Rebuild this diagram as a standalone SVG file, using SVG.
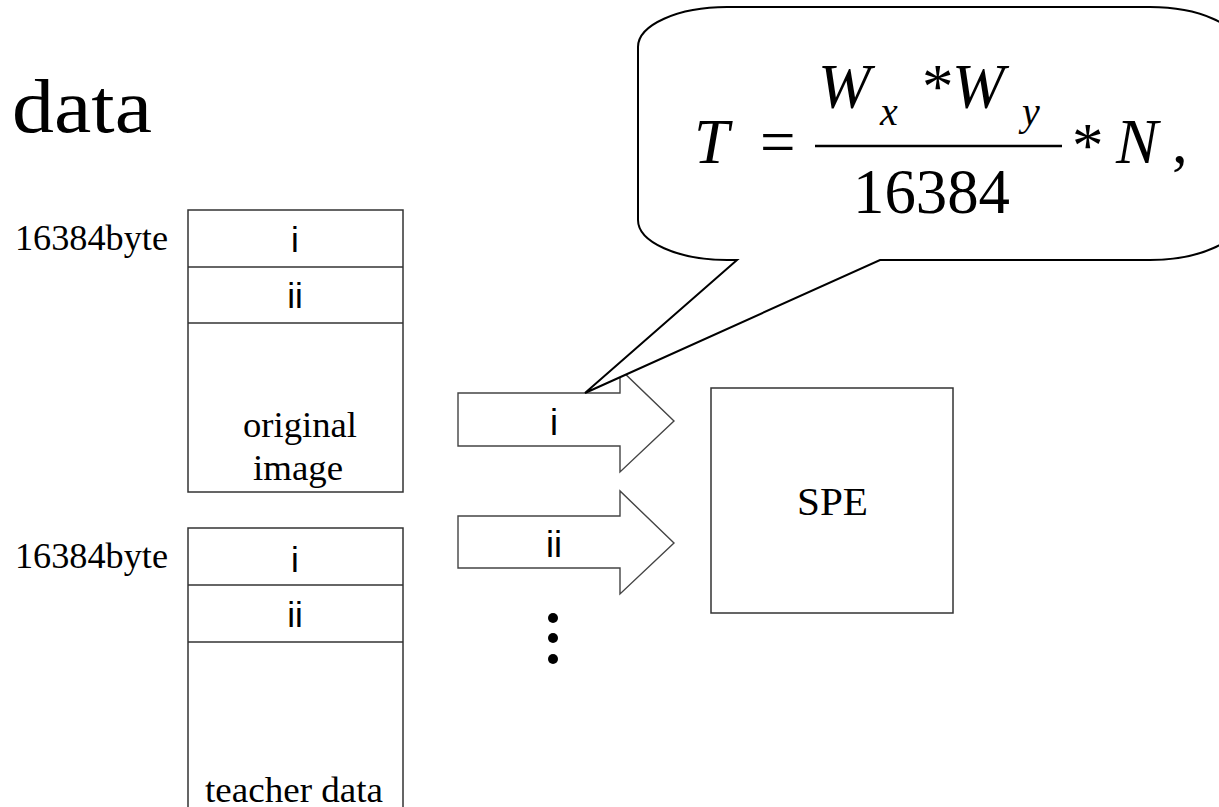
<svg xmlns="http://www.w3.org/2000/svg" width="1219" height="807" viewBox="0 0 1219 807">
<style>
.serif{font-family:"Liberation Serif","Times New Roman",serif;fill:#000}
.sans{font-family:"Liberation Sans",Arial,sans-serif;fill:#000}
.box{fill:#fff;stroke:#333;stroke-width:1.5}
.arrow{fill:#fff;stroke:#444;stroke-width:1.4;stroke-linejoin:miter}
.it{font-style:italic}
</style>
<rect width="1219" height="807" fill="#fff"/>
<g id="title">
<text class="serif" x="12" y="132" font-size="76" textLength="140" lengthAdjust="spacingAndGlyphs">data</text>
</g>
<g id="buffer1">
<text class="serif" x="15" y="250" font-size="36" textLength="153" lengthAdjust="spacingAndGlyphs">16384byte</text>
<rect class="box" x="188" y="210" width="215" height="282"/>
<line class="box" x1="188" y1="267" x2="403" y2="267"/>
<line class="box" x1="188" y1="323" x2="403" y2="323"/>
<text class="sans" x="295" y="252" font-size="35" text-anchor="middle">i</text>
<text class="sans" x="295" y="308" font-size="35" text-anchor="middle">ii</text>
<text class="serif" x="243" y="437" font-size="36" textLength="114" lengthAdjust="spacingAndGlyphs">original</text>
<text class="serif" x="253" y="480" font-size="36" textLength="90" lengthAdjust="spacingAndGlyphs">image</text>
</g>
<g id="buffer2">
<text class="serif" x="15" y="568" font-size="36" textLength="153" lengthAdjust="spacingAndGlyphs">16384byte</text>
<rect class="box" x="188" y="528" width="215" height="300"/>
<line class="box" x1="188" y1="585" x2="403" y2="585"/>
<line class="box" x1="188" y1="642" x2="403" y2="642"/>
<text class="sans" x="295" y="572" font-size="35" text-anchor="middle">i</text>
<text class="sans" x="295" y="627" font-size="35" text-anchor="middle">ii</text>
<text class="serif" x="205" y="802" font-size="36" textLength="178" lengthAdjust="spacingAndGlyphs">teacher data</text>
</g>
<g id="connectors">
<g id="arrow-i">
<path class="arrow" d="M458,393 H620 V369 L674,421 L620,472 V446 H458 Z"/>
<text class="sans" x="554" y="435" font-size="36" text-anchor="middle">i</text>
</g>
<g id="arrow-ii">
<path class="arrow" d="M458,516 H620 V491 L674,543 L620,594 V568 H458 Z"/>
<text class="sans" x="554" y="557" font-size="36" text-anchor="middle">ii</text>
</g>
<g id="ellipsis" fill="#000">
<circle cx="553" cy="618" r="5"/>
<circle cx="553" cy="638" r="5"/>
<circle cx="553" cy="659" r="5"/>
</g>
</g>
<g id="spe">
<rect class="box" x="711" y="388" width="242" height="225"/>
<text class="serif" x="797" y="515" font-size="40" textLength="71" lengthAdjust="spacingAndGlyphs">SPE</text>
</g>
<g id="callout">
<path d="M727,7 H1150 A89,40 0 0 1 1239,47 V220 A89,40 0 0 1 1150,260 H880 L585,393 L737,260 H727 A89,40 0 0 1 638,220 V47 A89,40 0 0 1 727,7 Z" fill="#fff" stroke="#000" stroke-width="2"/>
<text class="serif it" x="694" y="163" font-size="63">T</text>
<text class="serif" x="760" y="163" font-size="63">=</text>
<text class="serif it" x="818" y="108" font-size="63">W</text>
<text class="serif it" x="880" y="125" font-size="40">x</text>
<text class="serif" x="922" y="108" font-size="63">*</text>
<text class="serif it" x="952" y="108" font-size="63">W</text>
<text class="serif it" x="1022" y="125" font-size="40">y</text>
<line x1="815" y1="146" x2="1062" y2="146" stroke="#000" stroke-width="2.5"/>
<text class="serif" x="853" y="213" font-size="63" textLength="157" lengthAdjust="spacingAndGlyphs">16384</text>
<text class="serif" x="1072" y="167" font-size="63">*</text>
<text class="serif it" x="1116" y="163" font-size="63">N</text>
<text class="serif" x="1172" y="163" font-size="63">,</text>
</g>
</svg>
